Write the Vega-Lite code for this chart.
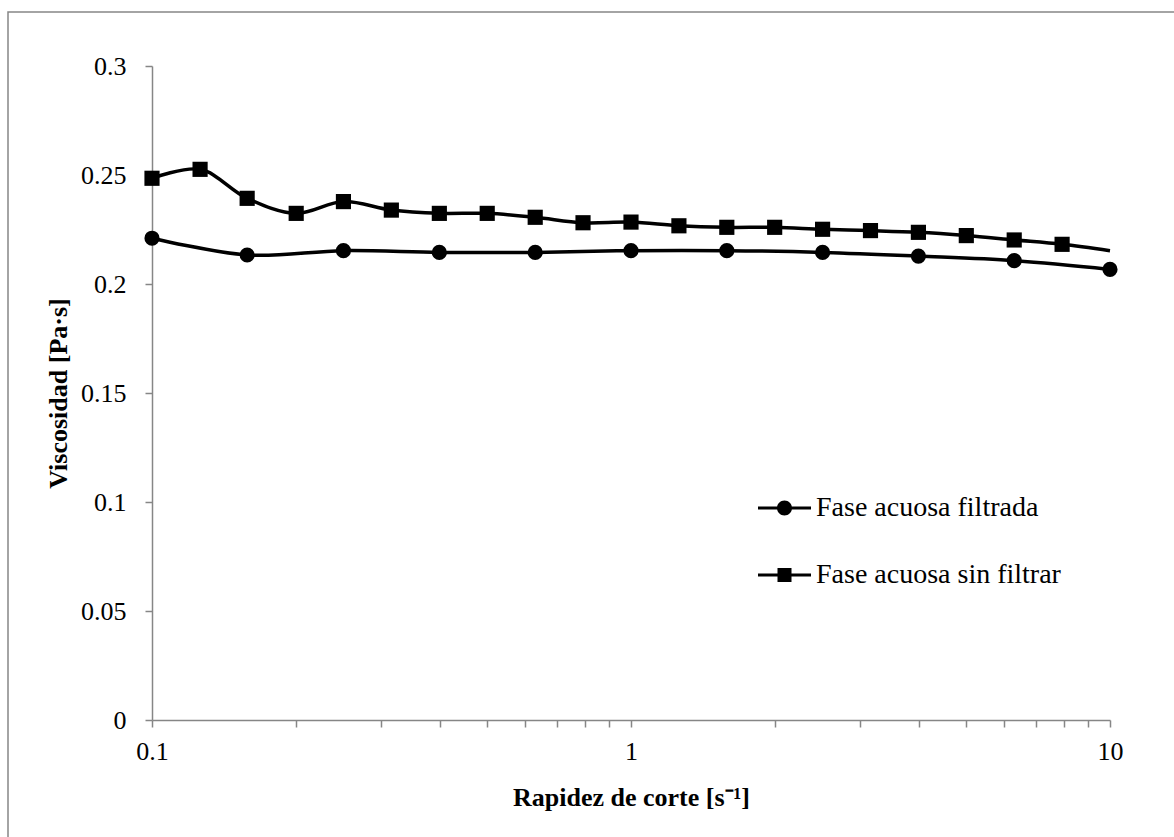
{
  "$schema": "https://vega.github.io/schema/vega-lite/v6.json",
  "autosize": {"type": "none"},
  "padding": {"left": 8, "top": 12, "right": -4, "bottom": -5},
  "width": 1170,
  "height": 830,
  "background": "white",
  "config": {
    "view": {"stroke": "#868686", "strokeWidth": 1.5},
    "font": "Liberation Serif"
  },
  "data": {
    "values": [
      {"serie": "Fase acuosa filtrada", "rapidez": 0.1, "viscosidad": 0.2210},
      {"serie": "Fase acuosa filtrada", "rapidez": 0.158, "viscosidad": 0.2133},
      {"serie": "Fase acuosa filtrada", "rapidez": 0.251, "viscosidad": 0.2153},
      {"serie": "Fase acuosa filtrada", "rapidez": 0.398, "viscosidad": 0.2145},
      {"serie": "Fase acuosa filtrada", "rapidez": 0.631, "viscosidad": 0.2145},
      {"serie": "Fase acuosa filtrada", "rapidez": 1.0, "viscosidad": 0.2153},
      {"serie": "Fase acuosa filtrada", "rapidez": 1.585, "viscosidad": 0.2153},
      {"serie": "Fase acuosa filtrada", "rapidez": 2.512, "viscosidad": 0.2145},
      {"serie": "Fase acuosa filtrada", "rapidez": 3.981, "viscosidad": 0.2128},
      {"serie": "Fase acuosa filtrada", "rapidez": 6.31, "viscosidad": 0.2107},
      {"serie": "Fase acuosa filtrada", "rapidez": 10.0, "viscosidad": 0.2067},
      {"serie": "Fase acuosa sin filtrar", "rapidez": 0.1, "viscosidad": 0.2485},
      {"serie": "Fase acuosa sin filtrar", "rapidez": 0.126, "viscosidad": 0.2526},
      {"serie": "Fase acuosa sin filtrar", "rapidez": 0.158, "viscosidad": 0.2393},
      {"serie": "Fase acuosa sin filtrar", "rapidez": 0.2, "viscosidad": 0.2324},
      {"serie": "Fase acuosa sin filtrar", "rapidez": 0.251, "viscosidad": 0.2378},
      {"serie": "Fase acuosa sin filtrar", "rapidez": 0.316, "viscosidad": 0.2339},
      {"serie": "Fase acuosa sin filtrar", "rapidez": 0.398, "viscosidad": 0.2324},
      {"serie": "Fase acuosa sin filtrar", "rapidez": 0.501, "viscosidad": 0.2324},
      {"serie": "Fase acuosa sin filtrar", "rapidez": 0.631, "viscosidad": 0.2306},
      {"serie": "Fase acuosa sin filtrar", "rapidez": 0.794, "viscosidad": 0.2281},
      {"serie": "Fase acuosa sin filtrar", "rapidez": 1.0, "viscosidad": 0.2284},
      {"serie": "Fase acuosa sin filtrar", "rapidez": 1.259, "viscosidad": 0.2267},
      {"serie": "Fase acuosa sin filtrar", "rapidez": 1.585, "viscosidad": 0.2260},
      {"serie": "Fase acuosa sin filtrar", "rapidez": 1.995, "viscosidad": 0.2260},
      {"serie": "Fase acuosa sin filtrar", "rapidez": 2.512, "viscosidad": 0.2251},
      {"serie": "Fase acuosa sin filtrar", "rapidez": 3.162, "viscosidad": 0.2245},
      {"serie": "Fase acuosa sin filtrar", "rapidez": 3.981, "viscosidad": 0.2237},
      {"serie": "Fase acuosa sin filtrar", "rapidez": 5.012, "viscosidad": 0.2222},
      {"serie": "Fase acuosa sin filtrar", "rapidez": 6.31, "viscosidad": 0.2202},
      {"serie": "Fase acuosa sin filtrar", "rapidez": 7.943, "viscosidad": 0.2182},
      {"serie": "Fase acuosa sin filtrar", "rapidez": 10.0, "viscosidad": 0.2153}
    ]
  },
  "encoding": {
    "x": {
      "field": "rapidez",
      "type": "quantitative",
      "scale": {"type": "log", "domain": [0.1, 10], "range": [144, 1102]},
      "axis": {
        "offset": -122,
        "title": "Rapidez de corte [s⁻¹]",
        "titleFont": "Liberation Serif",
        "titleFontWeight": "bold",
        "titleFontSize": 26,
        "titleColor": "black",
        "titleBaseline": "middle",
        "titleY": 77,
        "values": [0.1, 0.2, 0.3, 0.4, 0.5, 0.6, 0.7, 0.8, 0.9, 1, 2, 3, 4, 5, 6, 7, 8, 9, 10],
        "labelExpr": "(datum.value === 0.1 || datum.value === 1 || datum.value === 10) ? '' + datum.value : ''",
        "labelFont": "Liberation Serif",
        "labelFontSize": 26,
        "labelColor": "black",
        "labelPadding": 11,
        "labelOverlap": false,
        "labelFlush": false,
        "grid": false,
        "domainColor": "#868686",
        "domainWidth": 1.5,
        "tickColor": "#868686",
        "tickWidth": 1.5,
        "tickSize": 7
      }
    },
    "y": {
      "field": "viscosidad",
      "type": "quantitative",
      "scale": {"domain": [0, 0.3], "range": [708, 54], "zero": true},
      "axis": {
        "offset": -144,
        "title": "Viscosidad [Pa·s]",
        "titleFont": "Liberation Serif",
        "titleFontWeight": "bold",
        "titleFontSize": 26,
        "titleColor": "black",
        "titleBaseline": "middle",
        "titleX": -94,
        "titleY": 381,
        "values": [0, 0.05, 0.1, 0.15, 0.2, 0.25, 0.3],
        "format": ".2~f",
        "labelFont": "Liberation Serif",
        "labelFontSize": 26,
        "labelColor": "black",
        "labelPadding": 19,
        "labelOverlap": false,
        "labelFlush": false,
        "grid": false,
        "domainColor": "#868686",
        "domainWidth": 1.5,
        "tickColor": "#868686",
        "tickWidth": 1.5,
        "tickSize": 7
      }
    }
  },
  "layer": [
    {
      "mark": {"type": "line", "interpolate": "catmull-rom", "stroke": "black", "strokeWidth": 3.5},
      "encoding": {"detail": {"field": "serie", "type": "nominal"}}
    },
    {
      "transform": [
        {"filter": "!(datum.serie === 'Fase acuosa sin filtrar' && datum.rapidez >= 10)"}
      ],
      "mark": {"type": "point", "filled": true, "opacity": 1, "size": 230, "color": "black"},
      "encoding": {
        "shape": {
          "field": "serie",
          "type": "nominal",
          "scale": {
            "domain": ["Fase acuosa filtrada", "Fase acuosa sin filtrar"],
            "range": ["circle", "square"]
          },
          "legend": null
        }
      }
    },
    {
      "transform": [{"filter": "false"}],
      "mark": {"type": "point", "filled": true, "opacity": 1, "color": "black"},
      "encoding": {
        "shape": {
          "field": "serie",
          "type": "nominal",
          "scale": {
            "domain": ["Fase acuosa filtrada", "Fase acuosa sin filtrar"],
            "range": [
              "M-2.65,-0.16H2.65V0.16H-2.65ZM0.75,0A0.75,0.75,0,1,1,-0.75,0A0.75,0.75,0,1,1,0.75,0Z",
              "M-2.65,-0.16H2.65V0.16H-2.65ZM-0.7,-0.7H0.7V0.7H-0.7Z"
            ]
          },
          "legend": {
            "title": null,
            "orient": "none",
            "legendX": 762.5,
            "legendY": 482,
            "padding": 0,
            "symbolSize": 400,
            "symbolStrokeWidth": 0,
            "symbolFillColor": "black",
            "symbolOpacity": 1,
            "labelFont": "Liberation Serif",
            "labelFontSize": 28,
            "labelColor": "black",
            "labelOffset": 17.5,
            "labelLimit": 400,
            "rowPadding": 39
          }
        }
      }
    }
  ],
  "resolve": {"scale": {"shape": "independent"}, "legend": {"shape": "independent"}}
}
